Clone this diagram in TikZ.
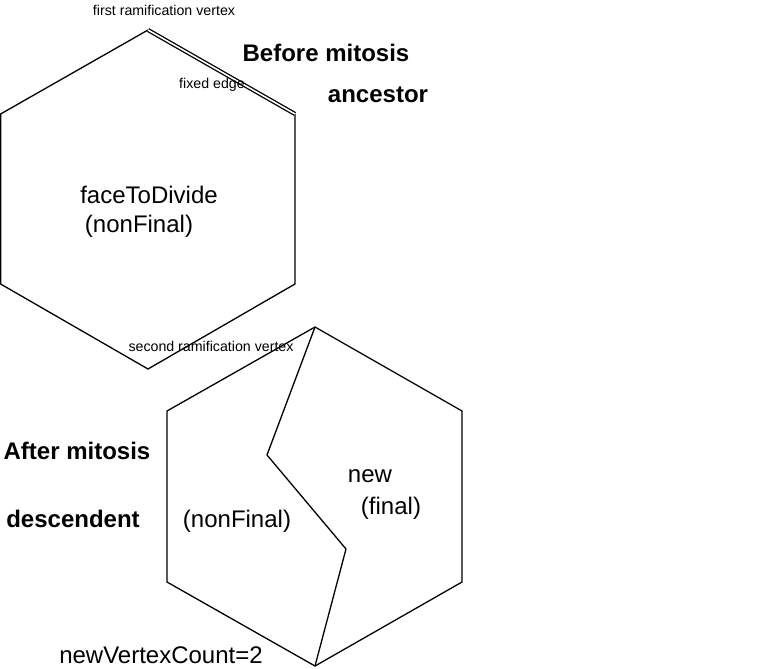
\documentclass[tikz,border=0pt]{standalone}
\usepackage{fontspec}
\setmainfont{Liberation Sans}
\begin{document}
\begin{tikzpicture}[x=1pt,y=-1pt,
  edge/.style={draw=black,line width=1.3pt},
  small/.style={font=\fontsize{14.2}{16}\selectfont,inner sep=0pt},
  big/.style={font=\fontsize{24}{28}\selectfont,inner sep=0pt},
  bigb/.style={font=\fontsize{24}{28}\selectfont\bfseries,inner sep=0pt}]
\useasboundingbox (0,0) rectangle (760,669);
% top hexagon
\coordinate (a1) at (148,30);
\coordinate (a2) at (295,114);
\coordinate (a3) at (295,284);
\coordinate (a4) at (148,369);
\coordinate (a5) at (0.6,284);
\coordinate (a6) at (0.6,114);
\draw[edge] (a1) -- (a6) -- (a5) -- (a4) -- (a3) -- (a2);
\draw[edge,double=white,double distance=1.6pt] (a1) -- (a2);
% bottom hexagon
\coordinate (b1) at (315,327);
\coordinate (b2) at (462,411);
\coordinate (b3) at (462,582);
\coordinate (b4) at (315,666);
\coordinate (b5) at (167,582);
\coordinate (b6) at (167,411);
\draw[edge] (b1) -- (b2) -- (b3) -- (b4) -- (b5) -- (b6) -- cycle;
\coordinate (c1) at (267,455);
\coordinate (c2) at (346,549);
\draw[edge] (b1) -- (c1) -- (c2) -- (b4);
% labels
\node[small] (t1) at (164,10) {first ramification vertex};
\node[small] (t2) at (212,85) {fixed edge};
\node[small] (t3) at (211,346) {second ramification vertex};
\node[bigb] (t4) at (326,53) {Before mitosis};
\node[bigb] (t5) at (378,95) {ancestor};
\node[big] (t6) at (149,195) {faceToDivide};
\node[big] (t7) at (139,226) {(nonFinal)};
\node[bigb] (t8) at (77,451) {After mitosis};
\node[bigb] (t9) at (73,519) {descendent};
\node[big] (t10) at (370,476) {new};
\node[big] (t11) at (391,508) {(final)};
\node[big] (t12) at (237,521) {(nonFinal)};
\node[big] (t13) at (161,655) {newVertexCount=2};
\end{tikzpicture}
\end{document}
